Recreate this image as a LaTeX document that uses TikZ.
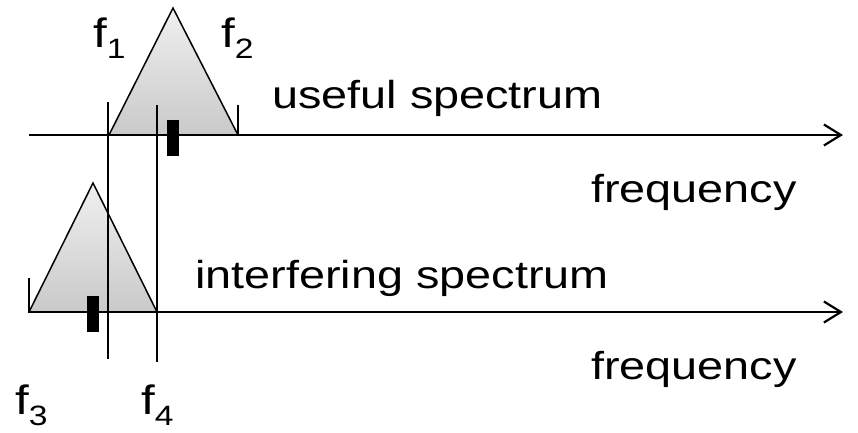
\documentclass[tikz,border=0pt]{standalone}
\usepackage{fontspec}
\setmainfont{Liberation Sans}[FakeStretch=1.2]
\usepackage{tikz}
\usetikzlibrary{arrows.meta}
\newcommand{\fsub}[1]{{\fontsize{41}{44}\selectfont f}\raisebox{-11pt}{\fontsize{28}{28}\selectfont #1}}
\tikzset{
  lbl/.style={anchor=base west, inner sep=0pt, font=\fontsize{39}{42}\selectfont},
  spec/.style={draw=black, line width=1.5pt, top color=gray!12, bottom color=gray!42},
  axis/.style={line width=2.2pt, -{Straight Barb[length=17pt,width=21pt,line width=2.2pt]}},
  edge line/.style={line width=1.5pt},
  bar/.style={fill=black}
}
\begin{document}
\begin{tikzpicture}[x=1pt, y=-1pt]
  \useasboundingbox (0,0) rectangle (858,433);
  \coordinate (u0) at (29,135);
  \coordinate (u1) at (843,135);
  \coordinate (i0) at (29,312);
  \coordinate (i1) at (843,312);
  % spettri
  \draw[spec] (109,135) -- (173,8) -- (238,135) -- cycle;
  \draw[spec] (29,312) -- (93,183) -- (157,312) -- cycle;
  \draw[axis] (u0) -- (u1);
  \draw[axis] (i0) -- (i1);
  \draw[edge line] (108,102) -- (108,359);
  \draw[edge line] (157,105) -- (157,362);
  \draw[edge line] (238,105) -- (238,135);
  \draw[edge line] (29,278) -- (29,312);
  \fill[bar] (167,120) rectangle (179,156);
  \fill[bar] (87,296) rectangle (99,332);
  \node[lbl] (f1) at (93,48) {\fsub{1}};
  \node[lbl] (f2) at (221,48) {\fsub{2}};
  \node[lbl] (f3) at (15,414) {\fsub{3}};
  \node[lbl] (f4) at (141,414) {\fsub{4}};
  \node[lbl] (useful) at (272,108) {useful spectrum};
  \node[lbl] (freq1) at (591,202) {frequency};
  \node[lbl] (interf) at (195,288) {interfering spectrum};
  \node[lbl] (freq2) at (591,379) {frequency};
\end{tikzpicture}
\end{document}
